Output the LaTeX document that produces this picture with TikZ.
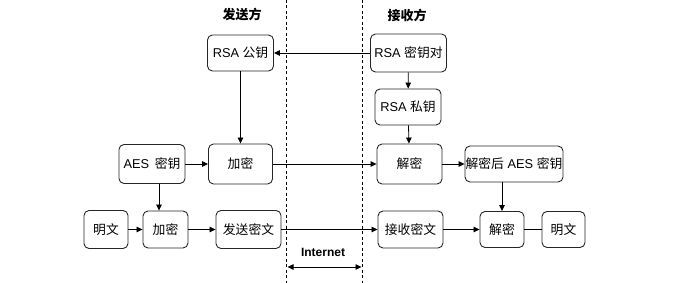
\documentclass[tikz,border=0pt]{standalone}
\usepackage{fontspec}
\setmainfont{Liberation Sans}
\newfontfamily\cjk{Noto Sans CJK SC}
\usetikzlibrary{arrows.meta}
\begin{document}
\begin{tikzpicture}[x=1pt,y=-1pt,
  box/.style={draw=black!85, line width=0.9pt, rounded corners=5pt, inner sep=0pt, font=\fontsize{12.8}{14}\selectfont,
    execute at begin node={\lower2.5pt\hbox\bgroup}, execute at end node={\egroup}},
  arr/.style={-{Triangle[length=6pt,width=5.5pt]}, line width=0.8pt},
  ln/.style={line width=0.8pt},
  sep/.style={dash pattern=on 3pt off 2.5pt, line width=0.8pt},
  ttl/.style={font=\fontsize{13}{14}\selectfont\cjk\bfseries}]
\useasboundingbox (0,0) rectangle (700,283);
% separators
\coordinate (s1t) at (286.5,0); \coordinate (s1b) at (286.5,283);
\coordinate (s2t) at (362.5,0); \coordinate (s2b) at (362.5,283);
\draw[sep] (s1t) -- (s1b);
\draw[sep] (s2t) -- (s2b);
% titles
\node[ttl] (tsend) at (242,15) {发送方};
\node[ttl] (trecv) at (407,15) {接收方};
% sender
\node[box, minimum width=66pt, minimum height=36pt] (pub) at (240.5,53) {RSA {\cjk 公钥}};
\node[box, minimum width=64pt, minimum height=40pt] (enc1) at (240.5,164) {\cjk 加密};
\node[box, minimum width=66pt, minimum height=39pt] (aes) at (152,164) {AES\, {\cjk 密钥}};
\node[box, minimum width=44pt, minimum height=38pt] (pt1) at (106,229.5) {\cjk 明文};
\node[box, minimum width=45pt, minimum height=37pt] (enc2) at (165.5,229.5) {\cjk 加密};
\node[box, minimum width=65pt, minimum height=38pt] (send) at (248.5,229.5) {\cjk 发送密文};
% receiver
\node[box, minimum width=76pt, minimum height=38pt] (pair) at (408.5,53) {RSA {\cjk 密钥对}};
\node[box, minimum width=66pt, minimum height=36pt] (priv) at (408,107) {RSA {\cjk 私钥}};
\node[box, minimum width=65pt, minimum height=40pt] (dec1) at (409.5,164) {\cjk 解密};
\node[box, minimum width=98pt, minimum height=36pt] (aesd) at (514,164) {{\cjk 解密后} AES {\cjk 密钥}};
\node[box, minimum width=65pt, minimum height=37pt] (recv) at (410.5,229.5) {\cjk 接收密文};
\node[box, minimum width=44pt, minimum height=36pt] (dec2) at (502,229.5) {\cjk 解密};
\node[box, minimum width=43pt, minimum height=36pt] (pt2) at (563.5,229.5) {\cjk 明文};
% connectors
\draw[arr] (pair) -- (pub);
\draw[arr] (pub) -- (enc1);
\draw[arr] (aes) -- (enc1);
\draw[arr] ([xshift=7pt]aes.south) -- ([xshift=7pt]aes.south |- enc2.north);
\draw[arr] (pt1) -- (enc2);
\draw[arr] (enc2) -- (send);
\draw[arr] (send) -- (recv);
\draw[arr] (enc1) -- (dec1);
\draw[arr] (pair) -- (priv);
\draw[arr] (priv) -- (dec1);
\draw[arr] (dec1) -- (aesd);
\draw[arr] (aesd.south -| dec2.north) -- (dec2.north);
\draw[arr] (recv) -- (dec2);
\draw[ln] (dec2) -- (pt2);
% internet
\node[font=\fontsize{12}{13}\selectfont\bfseries] (inet) at (323,252) {Internet};
\coordinate (ia) at (287.5,267);
\coordinate (ib) at (361.5,267);
\draw[{Triangle[length=6pt,width=5.5pt]}-{Triangle[length=6pt,width=5.5pt]}, line width=0.8pt] (ia) -- (ib);
\end{tikzpicture}
\end{document}
